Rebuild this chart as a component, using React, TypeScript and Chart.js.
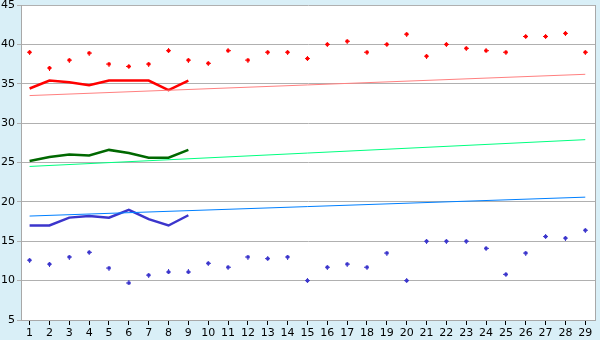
import React, { useEffect, useRef } from "react";
import { Chart, registerables } from "chart.js";

Chart.register(...registerables);

const categories = [1, 2, 3, 4, 5, 6, 7, 8, 9, 10, 11, 12, 13, 14, 15, 16, 17, 18, 19, 20, 21, 22, 23, 24, 25, 26, 27, 28, 29];
const yTicks = [5, 10, 15, 20, 25, 30, 35, 40, 45];

const redPoints = [39.0, 37.0, 38.0, 38.9, 37.5, 37.2, 37.5, 39.2, 38.0, 37.6, 39.2, 38.0, 39.0, 39.0, 38.2, 40.0, 40.4, 39.0, 40.0, 41.3, 38.5, 40.0, 39.5, 39.2, 39.0, 41.0, 41.0, 41.4, 39.0];
const bluePoints = [12.6, 12.1, 13.0, 13.6, 11.6, 9.7, 10.7, 11.1, 11.1, 12.2, 11.7, 13.0, 12.8, 13.0, 10.0, 11.7, 12.1, 11.7, 13.5, 10.0, 15.0, 15.0, 15.0, 14.1, 10.8, 13.5, 15.6, 15.4, 16.4];

const redLine = [34.4, 35.4, 35.2, 34.8, 35.4, 35.4, 35.4, 34.2, 35.4];
const greenLine = [25.2, 25.7, 26.0, 25.9, 26.6, 26.2, 25.6, 25.6, 26.6];
const blueLine = [17.0, 17.0, 18.0, 18.2, 18.0, 19.0, 17.8, 17.0, 18.3];

const trendX = [1, 29];
const redTrend = [33.5, 36.2];
const greenTrend = [24.5, 27.9];
const blueTrend = [18.2, 20.6];

function marker(color: string) {
  const c = document.createElement("canvas");
  c.width = 5;
  c.height = 5;
  const g = c.getContext("2d")!;
  g.fillStyle = color;
  g.fillRect(2, 0, 1, 5);
  g.fillRect(1, 1, 3, 3);
  g.fillRect(0, 2, 5, 1);
  return c;
}

const pts = (xs: number[], ys: number[]) => ys.map((y, i) => ({ x: xs[i], y }));

export default function App() {
  const ref = useRef<HTMLCanvasElement>(null);
  useEffect(() => {
    const bgPlugin = {
      id: "bg",
      beforeDraw(chart: any) {
        const { ctx, chartArea: a } = chart;
        ctx.save();
        ctx.fillStyle = "#ffffff";
        ctx.fillRect(a.left, a.top, a.right - a.left, a.bottom - a.top);
        ctx.restore();
      },
      afterDraw(chart: any) {
        const { ctx, chartArea: a } = chart;
        ctx.save();
        ctx.strokeStyle = "#a8a8a8";
        ctx.lineWidth = 1;
        ctx.beginPath();
        ctx.moveTo(Math.round(a.right) + 0.5, a.top);
        ctx.lineTo(Math.round(a.right) + 0.5, a.bottom);
        ctx.stroke();
        ctx.restore();
      },
    };
    const font = { family: "'DejaVu Sans', Verdana, sans-serif", size: 11 };
    const chart = new Chart(ref.current!, {
      type: "line",
      data: {
        datasets: [
          { data: pts(categories, redPoints), showLine: false, pointStyle: marker("#ff0000"), borderColor: "#ff0000", backgroundColor: "#ff0000" },
          { data: pts(categories, bluePoints), showLine: false, pointStyle: marker("#3b35cc"), borderColor: "#3b35cc", backgroundColor: "#3b35cc" },
          { data: pts(trendX, redTrend), borderColor: "#ff8080", borderWidth: 1, pointRadius: 0 },
          { data: pts(trendX, greenTrend), borderColor: "#00ff80", borderWidth: 1, pointRadius: 0 },
          { data: pts(trendX, blueTrend), borderColor: "#0080ff", borderWidth: 1, pointRadius: 0 },
          { data: pts(categories, redLine), borderColor: "#ff0000", borderWidth: 2.5, pointRadius: 0 },
          { data: pts(categories, greenLine), borderColor: "#006800", borderWidth: 2.5, pointRadius: 0 },
          { data: pts(categories, blueLine), borderColor: "#3b35cc", borderWidth: 2.5, pointRadius: 0 },
        ],
      },
      options: {
        animation: false,
        responsive: false,
        devicePixelRatio: 1,
        layout: { padding: { top: 5, right: 5, left: 0, bottom: 0 } },
        plugins: { legend: { display: false }, tooltip: { enabled: false } },
        elements: { line: { tension: 0 } },
        scales: {
          x: {
            type: "linear",
            min: 0.567,
            max: 29.49,
            afterBuildTicks: (s: any) => {
              s.ticks = categories.map((v) => ({ value: v }));
            },
            afterFit: (s: any) => {
              s.height = 20;
              s.paddingLeft = 0;
              s.paddingRight = 0;
            },
            grid: { drawOnChartArea: false, drawTicks: true, tickLength: 5, color: "#000000", lineWidth: 1 },
            border: { color: "#a8a8a8" },
            ticks: { font, color: "#000000", padding: 2, maxRotation: 0, autoSkip: false, callback: (v: any) => String(v) },
          },
          y: {
            min: 5,
            max: 45,
            afterBuildTicks: (s: any) => {
              s.ticks = yTicks.map((v) => ({ value: v }));
            },
            afterFit: (s: any) => {
              s.width = 21;
              s.paddingTop = 0;
              s.paddingBottom = 0;
            },
            grid: { color: "#b0b0b0", tickLength: 4, lineWidth: 1 },
            border: { color: "#a8a8a8" },
            ticks: { font, color: "#000000", padding: 2 },
          },
        },
      },
      plugins: [bgPlugin],
    } as any);
    return () => chart.destroy();
  }, []);
  return (
    <div style={{ position: "absolute", left: 0, top: 0, width: 600, height: 340, background: "#d9eff7" }}>
      <canvas ref={ref} width={600} height={340} />
    </div>
  );
}
